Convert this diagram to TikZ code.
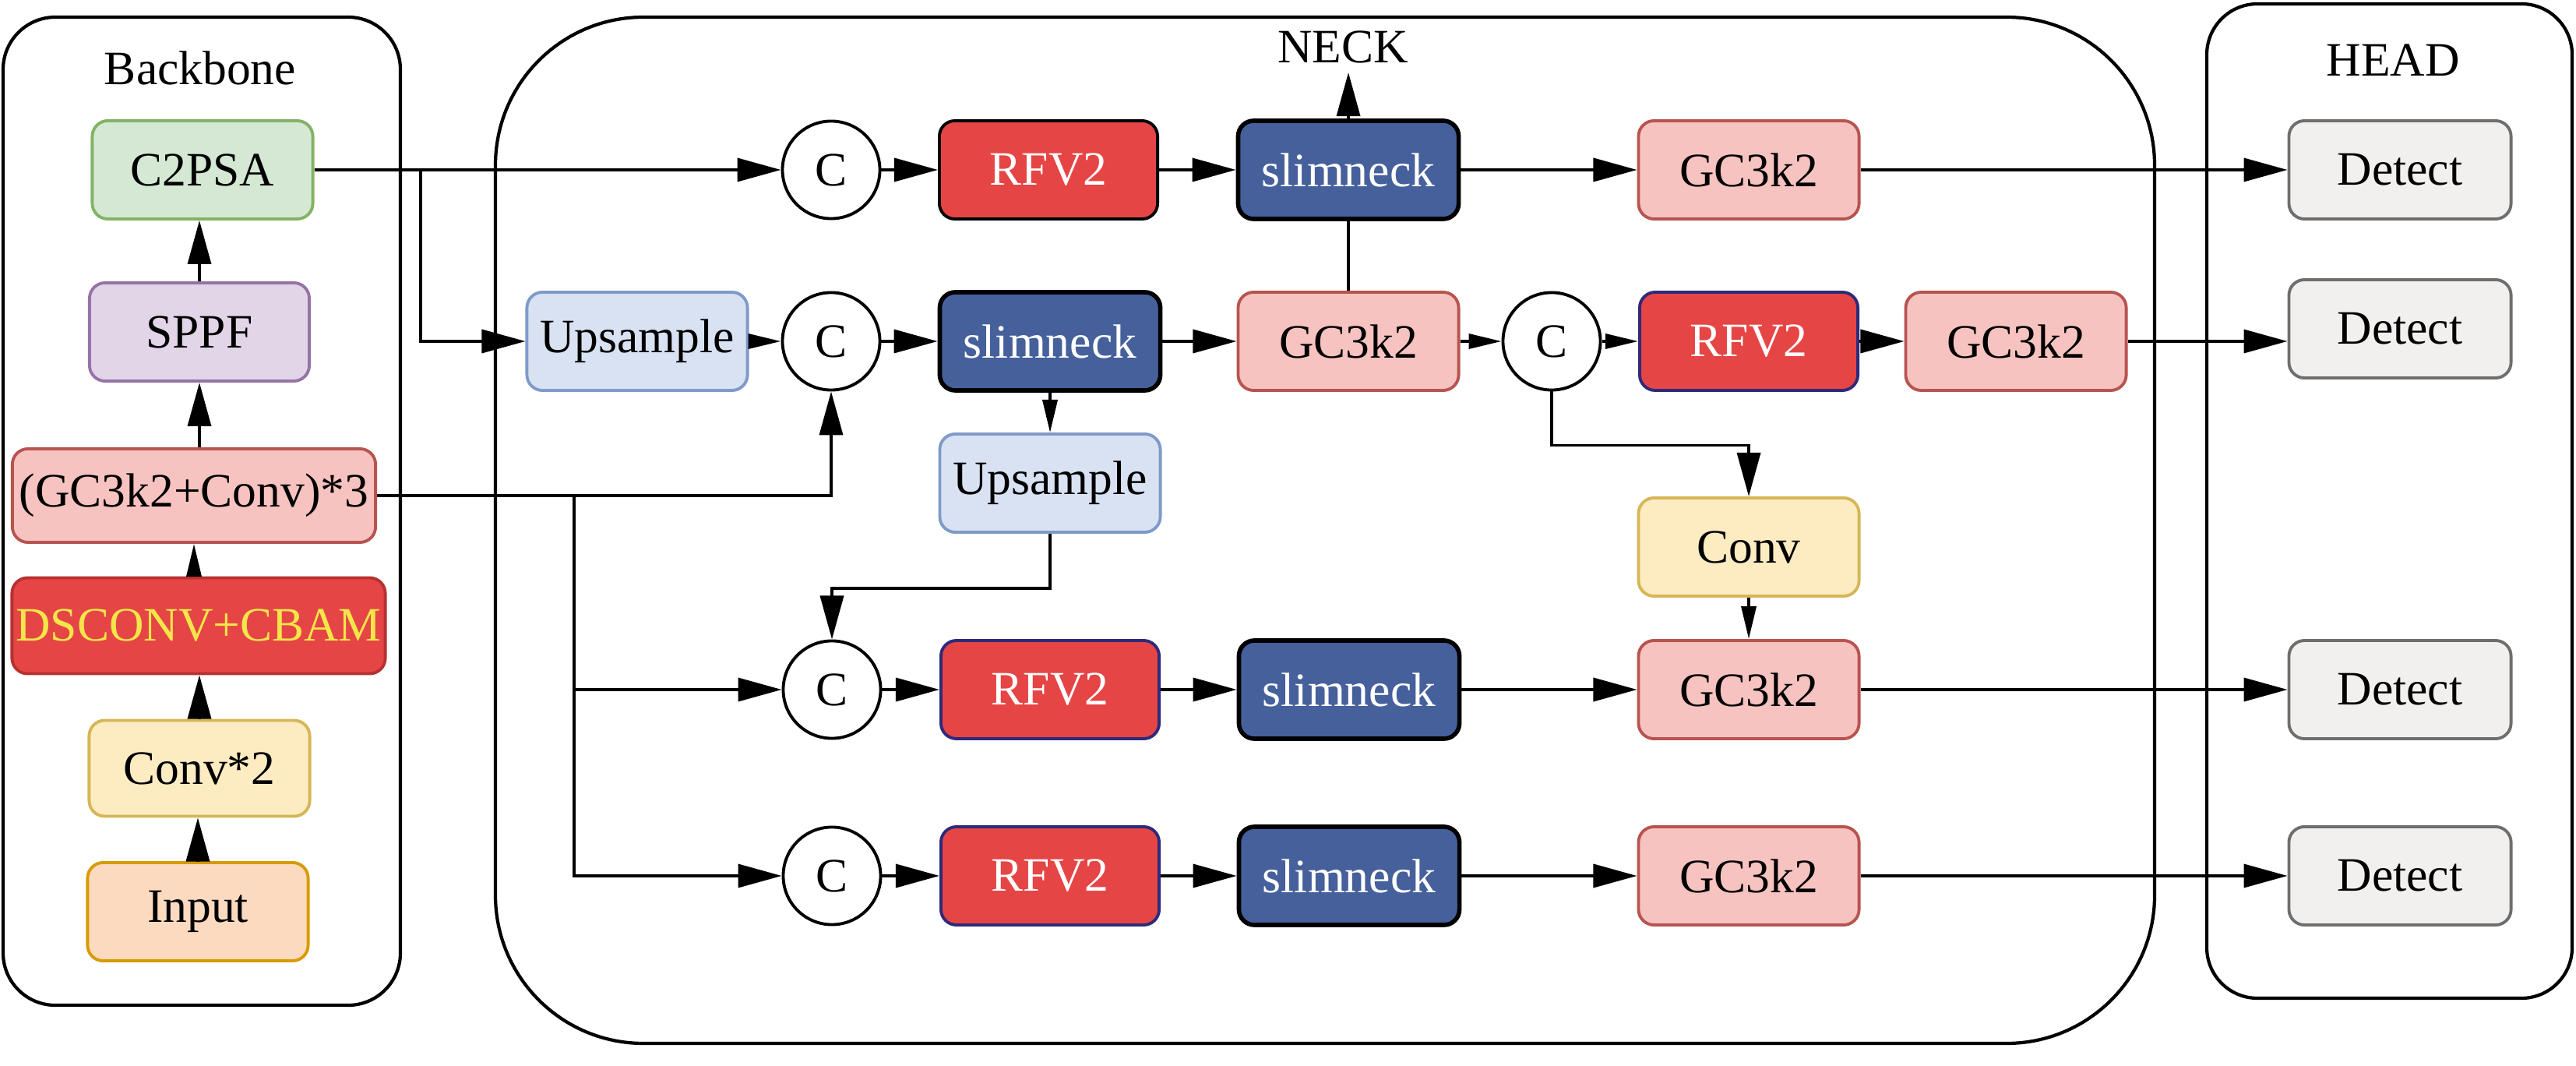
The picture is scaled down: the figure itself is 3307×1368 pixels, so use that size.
\documentclass[tikz,border=0pt]{standalone}
\usepackage{fontspec}
\setmainfont{Liberation Serif}
\usetikzlibrary{arrows.meta,calc}
\definecolor{greenF}{HTML}{D5E8D4}\definecolor{greenD}{HTML}{82B366}
\definecolor{purpF}{HTML}{E1D5E7}\definecolor{purpD}{HTML}{9673A6}
\definecolor{pinkF}{HTML}{F6C3C1}\definecolor{pinkD}{HTML}{B85450}
\definecolor{redF}{HTML}{E64545}\definecolor{redD}{HTML}{B83030}
\definecolor{rfvD}{HTML}{2E2A7A}
\definecolor{yelT}{HTML}{F3E64A}
\definecolor{yelF}{HTML}{FDEBC2}\definecolor{yelD}{HTML}{D6B656}
\definecolor{inF}{HTML}{FCDAC0}\definecolor{inD}{HTML}{D79B00}
\definecolor{upF}{HTML}{D9E2F2}\definecolor{upD}{HTML}{7F9AC9}
\definecolor{snF}{HTML}{46609C}
\definecolor{detF}{HTML}{F2F0EE}\definecolor{detD}{HTML}{6E6E6E}
\begin{document}
\begin{tikzpicture}[x=0.01cm,y=-0.01cm,
  font=\fontsize{17.5}{20}\selectfont,
  box/.style={draw, rounded corners=0.2cm, line width=1.1pt, minimum width=2.83cm,
    minimum height=1.26cm, inner sep=0pt, align=center},
  greenbox/.style={box, fill=greenF, draw=greenD},
  purpbox/.style={box, fill=purpF, draw=purpD},
  pinkbox/.style={box, fill=pinkF, draw=pinkD},
  rfvbox/.style={box, fill=redF, draw=rfvD, text=white, minimum width=2.8cm},
  snbox/.style={box, fill=snF, draw=black, line width=1.6pt, text=white},
  yelbox/.style={box, fill=yelF, draw=yelD},
  upbox/.style={box, fill=upF, draw=upD},
  detbox/.style={box, fill=detF, draw=detD, minimum width=2.85cm},
  cnode/.style={draw, circle, fill=white, line width=1.1pt, minimum size=1.25cm, inner sep=0pt},
  container/.style={draw, line width=1.2pt},
  arr/.style={line width=1pt, -{Triangle[length=0.56cm,width=0.3cm]}},
  sarr/.style={line width=1pt, -{Triangle[length=0.42cm,width=0.19cm]}},
  ln/.style={line width=1pt}
]
\useasboundingbox (0,0) rectangle (3307,1368);
% containers
\draw[container, rounded corners=0.67cm] (4,22) rectangle (514,1290);
\draw[container, rounded corners=1.9cm] (636,22) rectangle (2766,1339);
\draw[container, rounded corners=0.65cm] (2833,5) rectangle (3302,1281);
% titles
\node (tbb) at (257,87) {Backbone};
\node (tneck) at (1724,60) {NECK};
\node (thead) at (3072,77) {HEAD};
% backbone
\node[greenbox] (c2psa) at (260,218) {C2PSA};
\node[purpbox, minimum width=2.82cm] (sppf) at (256,426) {SPPF};
\node[pinkbox, minimum width=4.66cm, minimum height=1.2cm] (gcc) at (249,636) {(GC3k2+Conv)*3};
\node[box, fill=redF, draw=redD, text=yelT, minimum width=4.79cm, minimum height=1.23cm] (ds) at (255,803) {DSCONV+CBAM};
\node[yelbox, minimum height=1.23cm] (conv2) at (256,986) {Conv*2};
\node[box, fill=inF, draw=inD] (inp) at (254,1170) {Input};
% neck row 1
\node[cnode] (c1) at (1067,218) {C};
\node[rfvbox, draw=black] (r1) at (1346,218) {RFV2};
\node[snbox] (s1) at (1731,218) {slimneck};
\node[pinkbox] (g1) at (2245,218) {GC3k2};
% neck row 2
\node[upbox] (up1) at (818,438) {Upsample};
\node[cnode] (c2) at (1067,438) {C};
\node[snbox] (s2) at (1348,438) {slimneck};
\node[pinkbox] (g2) at (1731,438) {GC3k2};
\node[cnode] (c2b) at (1992,438) {C};
\node[rfvbox] (r2) at (2245,438) {RFV2};
\node[pinkbox] (g2b) at (2588,438) {GC3k2};
% middle
\node[upbox] (up2) at (1348,620) {Upsample};
\node[yelbox] (conv) at (2245,702) {Conv};
% row 3
\node[cnode] (c3) at (1068,885) {C};
\node[rfvbox] (r3) at (1348,885) {RFV2};
\node[snbox] (s3) at (1732,885) {slimneck};
\node[pinkbox] (g3) at (2245,885) {GC3k2};
% row 4
\node[cnode] (c4) at (1068,1124) {C};
\node[rfvbox] (r4) at (1348,1124) {RFV2};
\node[snbox] (s4) at (1732,1124) {slimneck};
\node[pinkbox] (g4) at (2245,1124) {GC3k2};
% head
\node[detbox] (d1) at (3081,218) {Detect};
\node[detbox] (d2) at (3081,422) {Detect};
\node[detbox] (d3) at (3081,885) {Detect};
\node[detbox] (d4) at (3081,1124) {Detect};
% backbone arrows
\draw[arr] (inp.north) -- (inp.north |- conv2.south);
\draw[arr] (conv2.north) -- (conv2.north |- ds.south);
\draw[sarr] (ds.north -| gcc.south) -- (gcc.south);
\draw[arr] (gcc.north -| sppf.south) -- (sppf.south);
\draw[arr] (sppf.north) -- (sppf.north |- c2psa.south);
% backbone to neck
\draw[arr] (c2psa.east) -- (c1.west);
\coordinate (b1) at (540,218);
\draw[arr] (b1) |- (up1.west);
\draw[arr] (gcc.east) -| (c2.south);
\coordinate (b2) at (737,636);
\draw[arr] (b2) |- (c3.west);
\draw[arr] (b2) |- (c4.west);
% row 1
\draw[arr] (c1.east) -- (r1.west);
\draw[arr] (r1.east) -- (s1.west);
\draw[arr] (s1.east) -- (g1.west);
\draw[arr] (g1.east) -- (d1.west);
\draw[arr] (s1.north) -- (s1.north |- tneck.south);
\draw[ln] (s1.south) -- (g2.north);
% row 2
\draw[sarr] (up1.east) -- (c2.west);
\draw[arr] (c2.east) -- (s2.west);
\draw[arr] (s2.east) -- (g2.west);
\draw[sarr] (g2.east) -- (c2b.west);
\draw[sarr] (c2b.east) -- (r2.west);
\draw[arr] (r2.east) -- (g2b.west);
\draw[arr] (g2b.east) -- (g2b.east -| d2.west);
\draw[sarr] (s2.south) -- (up2.north);
\draw[arr] (up2.south) -- ++(0,70) -| (c3.north);
\draw[arr] (c2b.south) -- ++(0,69) -| (conv.north);
\draw[sarr] (conv.south) -- (g3.north);
% row 3
\draw[arr] (c3.east) -- (r3.west);
\draw[arr] (r3.east) -- (s3.west);
\draw[arr] (s3.east) -- (g3.west);
\draw[arr] (g3.east) -- (d3.west);
% row 4
\draw[arr] (c4.east) -- (r4.west);
\draw[arr] (r4.east) -- (s4.west);
\draw[arr] (s4.east) -- (g4.west);
\draw[arr] (g4.east) -- (d4.west);
\end{tikzpicture}
\end{document}
